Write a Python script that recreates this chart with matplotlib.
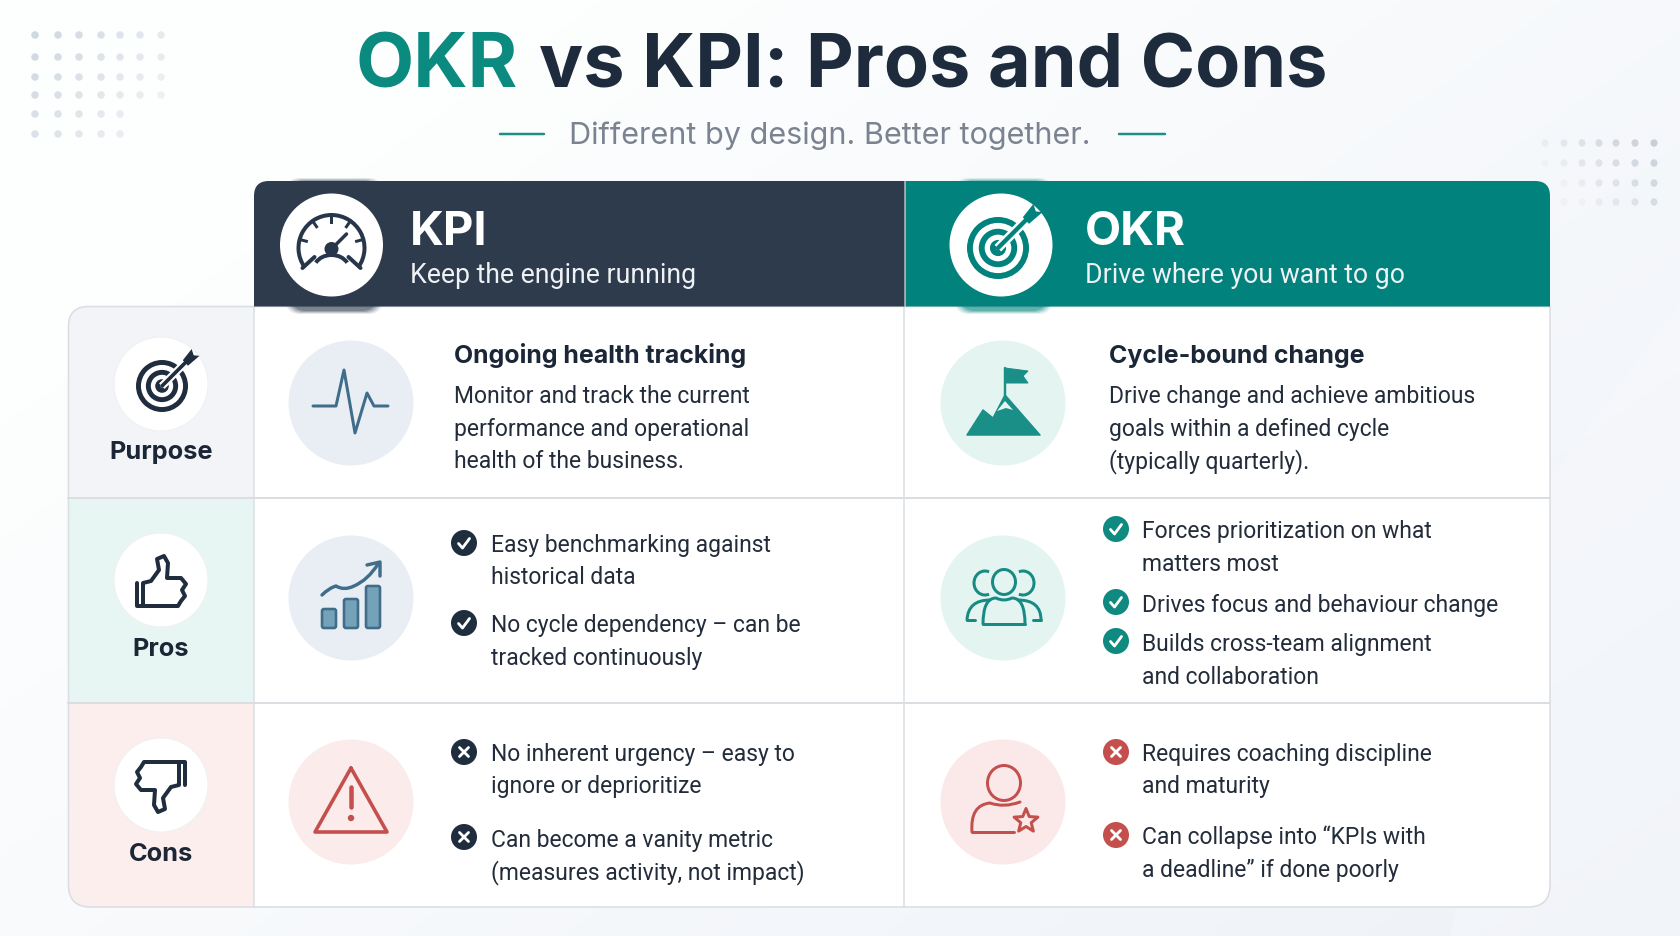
import numpy as np
import matplotlib
matplotlib.use('Agg')
import matplotlib.pyplot as plt
from matplotlib.patches import Circle, Ellipse, PathPatch, Polygon, Arc
from matplotlib.path import Path

plt.rcParams['font.family'] = ['Inter', 'DejaVu Sans']

# ---- content ----
title_first = 'OKR'
title_rest = 'vs KPI: Pros and Cons'
subtitle = 'Different by design. Better together.'

row_labels = ['Purpose', 'Pros', 'Cons']
header_names = ['KPI', 'OKR']
header_subs = ['Keep the engine running', 'Drive where you want to go']

purpose_heads = ['Ongoing health tracking', 'Cycle-bound change']
purpose_kpi = ['Monitor and track the current', 'performance and operational', 'health of the business.']
purpose_okr = ['Drive change and achieve ambitious', 'goals within a defined cycle', '(typically quarterly).']

pros_kpi = [['Easy benchmarking against', 'historical data'],
            ['No cycle dependency \u2013 can be', 'tracked continuously']]
pros_okr = [['Forces prioritization on what', 'matters most'],
            ['Drives focus and behaviour change'],
            ['Builds cross-team alignment', 'and collaboration']]
cons_kpi = [['No inherent urgency \u2013 easy to', 'ignore or deprioritize'],
            ['Can become a vanity metric', '(measures activity, not impact)']]
cons_okr = [['Requires coaching discipline', 'and maturity'],
            ['Can collapse into \u201cKPIs with', 'a deadline\u201d if done poorly']]

NAVY = '#2e3b4d'
TEAL = '#02827c'
TEAL2 = '#1a8f87'
INK = '#1b2636'
BODY = '#232c3a'
RED = '#c4504e'
STEEL = '#3f6d8a'
GRID = '#dadee3'
DARK = '#1f2d3f'
BODY_PX = 22.9

fig = plt.figure(figsize=(16.81, 9.36), dpi=100)
ax = fig.add_axes([0, 0, 1, 1])
ax.axis('off')


def lw(px):
    return px * 0.72


def label(x, y, s, px, color=BODY, weight='normal', ha='left', family='Roboto'):
    return ax.text(x, y, s, fontsize=px * 0.72, color=color, fontweight=weight, ha=ha, va='baseline',
                   family=[family, 'DejaVu Sans'], zorder=3)


def round_rect(x0, y0, x1, y1, tl=0, tr=0, br=0, bl=0):
    verts = [(x0 + tl, y0), (x1 - tr, y0), (x1, y0), (x1, y0 + tr), (x1, y1 - br), (x1, y1), (x1 - br, y1),
             (x0 + bl, y1), (x0, y1), (x0, y1 - bl), (x0, y0 + tl), (x0, y0), (x0 + tl, y0), (x0 + tl, y0)]
    codes = [Path.MOVETO, Path.LINETO, Path.CURVE3, Path.CURVE3, Path.LINETO, Path.CURVE3, Path.CURVE3,
             Path.LINETO, Path.CURVE3, Path.CURVE3, Path.LINETO, Path.CURVE3, Path.CURVE3, Path.CLOSEPOLY]
    return Path(verts, codes)


def stroke(pts, color, px=3, **kw):
    pts = np.array(pts)
    ax.plot(pts[:, 0], pts[:, 1], color=color, lw=lw(px), solid_capstyle='round', solid_joinstyle='round', **kw)


def curve(pts, color, px=3):
    # smooth stroke through bezier control points (start, ctrl, end, ctrl, end ...)
    codes = [Path.MOVETO] + [Path.CURVE3] * (len(pts) - 1)
    ax.add_patch(PathPatch(Path(pts, codes), fc='none', ec=color, lw=lw(px), capstyle='round', joinstyle='round',
                           zorder=3))


# ---- background ----
h, w = 936, 1681
yy, xx = np.mgrid[0:h, 0:w]
t = (xx / w * 0.7 + yy / h * 0.55)
t = np.clip(t - 0.25, 0, 1)[..., None]
bg = (1 - t) * np.array([253, 254, 254]) / 255 + t * np.array([238, 242, 248]) / 255
ax.imshow(bg, extent=(0, w, h, 0), aspect='auto', zorder=-5)
ax.add_patch(Polygon([(1681, 300), (1681, 936), (1450, 936), (1550, 480)], fc='white', ec='none', alpha=0.2, zorder=-4))

# dots, top left and top right
left_dx = [35, 58, 79, 101, 120, 140, 161]
left_dy = [35, 57, 77, 95, 114, 134]
for j, y in enumerate(left_dy):
    for i, x in enumerate(left_dx):
        if j >= 4 and i >= 5:
            continue
        a = max(0.2, 0.95 - 0.08 * i - 0.05 * j)
        ax.add_patch(Ellipse((x, y), 7.5, 7.5, fc='#cdd5df', ec='none', alpha=a))
right_dx = [1545, 1564, 1582, 1599, 1616, 1635, 1654]
right_dy = [143, 163, 183, 202]
for j, y in enumerate(right_dy):
    for i, x in enumerate(right_dx):
        if j >= 2 and i == 0:
            continue
        a = max(0.12, 0.25 + 0.12 * i - 0.12 * j)
        ax.add_patch(Ellipse((x, y), 7, 7.5, fc='#c6ced8', ec='none', alpha=a))

# ---- title ----
label(356, 88, title_first, 75.5, color='#0b8a80', weight='bold', family='Inter')
label(539, 88, title_rest, 73.8, color='#1e2b3c', weight='bold', family='Inter')
label(569, 144, subtitle, 30.6, color='#7b8390', family='Inter')
stroke([(500, 134), (544, 134)], '#1c8f88', 2.5)
stroke([(1119, 134), (1165, 134)], '#1c8f88', 2.5)

# ---- table body ----
TX0, TX1, TXA, TXB = 68.5, 1550, 254, 904.5
TY0, TY1, TY2, TY3, TOP = 306.5, 497.5, 703, 907, 181
panel = round_rect(TX0, TY0, TX1, TY3, tl=20, br=22, bl=22)
body = PathPatch(panel, fc='white', ec='none', zorder=1)
ax.add_patch(body)
bands = [(TY0, TY1, '#f3f4f7'), (TY1, TY2, '#e8f6f3'), (TY2, TY3, '#fdeeee')]
for y0, y1, c in bands:
    r = ax.fill_between([TX0, TXA], y0, y1, color=c, lw=0, zorder=1.1)
    r.set_clip_path(body)
for y in (TY1, TY2):
    ax.plot([TX0, TX1], [y, y], color=GRID, lw=lw(2), zorder=1.3)
ax.plot([TXA, TXA], [TY0, TY3], color=GRID, lw=lw(1.5), zorder=1.3)
ax.plot([TXB, TXB], [TY0, TY3], color=GRID, lw=lw(1.5), zorder=1.3)
ax.add_patch(PathPatch(panel, fc='none', ec=GRID, lw=lw(1.6), zorder=1.4))

# ---- headers ----
# soft shadow bulging out above and below the header round the icon disc
for grow, alpha in [(0, 0.12), (-2, 0.18), (-4, 0.25), (-6, 0.3)]:
    for x0, x1, col in [(286, 382, NAVY), (955, 1052, TEAL)]:
        ax.add_patch(PathPatch(round_rect(x0 - grow, 178 - grow / 2, x1 + grow, 314 + grow / 2, 14, 14, 14, 14), fc=col,
                               ec='none', alpha=alpha, zorder=1.5))
ax.add_patch(PathPatch(round_rect(TXA, TOP, TXB, TY0, tl=15), fc=NAVY, ec='none', zorder=2))
ax.add_patch(PathPatch(round_rect(TXB + 1, TOP, TX1, TY0, tr=15), fc=TEAL, ec='none', zorder=2))
ax.add_patch(Circle((331.5, 245), 51.5, fc='white', ec='none', zorder=2.1))
ax.add_patch(Circle((1001, 245), 51.5, fc='white', ec='none', zorder=2.1))
for x, name, sub in zip((410, 1085), header_names, header_subs):
    label(x, 245, name, 47, color='white', weight='bold', family='Inter')
    label(x, 283, sub, 26.6, color='#eef2f4')


# ---- icons ----
def gauge(cx, cy, col):
    z = 3
    ax.add_patch(Arc((cx, cy), 66, 66, theta1=145, theta2=395, ec=col, lw=lw(4), zorder=z))
    for ang in (-90, -125, -55, -165, -15):
        a = np.radians(ang)
        ax.plot([cx + 33 * np.cos(a), cx + 26 * np.cos(a)], [cy + 33 * np.sin(a), cy + 26 * np.sin(a)],
                color=col, lw=lw(3), zorder=z)
    for s in (-1, 1):
        ax.plot([cx + s * 29, cx + s * 17], [cy + 20, cy + 9], color=col, lw=lw(4), solid_capstyle='round', zorder=z)
    ax.add_patch(Arc((cx, cy + 22), 36, 30, theta1=205, theta2=335, ec=col, lw=lw(4), zorder=z))
    ax.add_patch(Circle((cx, cy + 1), 7, fc=col, ec='none', zorder=z))
    ax.plot([cx, cx + 15], [cy + 1, cy - 14], color=col, lw=lw(3.5), solid_capstyle='round', zorder=z)


def target(cx, cy, r, col):
    z = 3
    for rr, width in ((r, 0.19), (r * 0.62, 0.19), (r * 0.26, 0.19)):
        ax.add_patch(Circle((cx, cy), rr - r * width / 2, fc='none', ec=col, lw=lw(r * width), zorder=z))
    ex, ey = cx + r * 1.02, cy - r * 1.02
    ax.plot([cx + r * 0.1, ex + r * 0.1], [cy - r * 0.1, ey - r * 0.1], color='white', lw=lw(r * 0.3), zorder=z)
    ax.plot([cx, ex], [cy, ey], color=col, lw=lw(r * 0.14), solid_capstyle='round', zorder=z)
    ax.add_patch(Polygon([(ex - r * 0.22, ey + r * 0.03), (ex + r * 0.12, ey - r * 0.4), (ex + r * 0.2, ey - r * 0.16),
                          (ex + r * 0.42, ey - r * 0.14), (ex - r * 0.02, ey + r * 0.24)], fc=col, ec='none', zorder=z))


def thumb(cx, cy, col, flip=False):
    pts = np.array([(-18, 25), (-18, 2), (-10, 0), (-2, -11), (-4, -22), (3, -25), (7, -18), (6, -3),
                    (20, -3), (25, 3), (21, 9), (24, 15), (20, 20), (17, 25), (-18, 25)], dtype=float)
    cuff = np.array([(-24, 2), (-24, 25), (-18, 25)], dtype=float)
    if flip:
        pts, cuff = -pts, -cuff
    stroke(pts + (cx, cy), col, 4, zorder=3)
    stroke(cuff + (cx, cy), col, 4, zorder=3)


def bars_icon():
    for x0, top in zip((322, 344, 366), (609, 599, 586)):
        ax.add_patch(PathPatch(round_rect(x0, top, x0 + 14, 628, 2, 2, 2, 2), fc='#76a2b9', ec=STEEL, lw=lw(2.6), zorder=3))
    curve([(322, 595), (329, 588), (336, 586), (344, 591), (354, 586), (368, 580), (378, 564)], STEEL, 3.4)
    stroke([(367, 565), (380, 562), (380, 576)], STEEL, 3.4, zorder=3)


def people_icon():
    z = 3
    col = '#178a83'
    ax.add_patch(Ellipse((1004, 582), 23, 25, fc='none', ec=col, lw=lw(3), zorder=z))
    ax.add_patch(Arc((985, 583), 22, 24, theta1=70, theta2=290, ec=col, lw=lw(3), zorder=z))
    ax.add_patch(Arc((1023, 583), 22, 24, theta1=-110, theta2=110, ec=col, lw=lw(3), zorder=z))
    curve([(983, 624), (983, 598), (996, 598), (1004, 602), (1012, 598), (1025, 598), (1025, 624)], col, 3)
    stroke([(983, 624), (1025, 624)], col, 3, zorder=z)
    curve([(990, 600), (968, 600), (967, 620)], col, 3)
    stroke([(967, 620), (975, 620)], col, 3, zorder=z)
    curve([(1018, 600), (1041, 600), (1041, 620)], col, 3)
    stroke([(1041, 620), (1033, 620)], col, 3, zorder=z)


def warning_icon():
    stroke([(351, 768), (387, 832), (315, 832), (351, 768)], RED, 3.6, zorder=3)
    stroke([(351, 787), (351, 807)], RED, 4.5, zorder=3)
    ax.add_patch(Circle((351, 818), 3.2, fc=RED, ec='none', zorder=3))


def person_star():
    z = 3
    ax.add_patch(Ellipse((1004, 783), 33, 35, fc='none', ec=RED, lw=lw(3), zorder=z))
    stroke([(1014, 832), (972, 832)], RED, 3, zorder=z)
    curve([(972, 832), (970, 805), (990, 803), (1004, 808), (1020, 802)], RED, 3)
    ang = np.radians(np.arange(-90, 270, 36))
    rad = np.where(np.arange(10) % 2 == 0, 12.5, 5.5)
    ax.add_patch(Polygon(np.c_[1026 + rad * np.cos(ang), 821 + rad * np.sin(ang)], fc='none', ec=RED, lw=lw(3),
                         joinstyle='round', zorder=z))


def flag_icon():
    z = 3
    col = TEAL2
    ax.add_patch(Polygon([(967, 435), (983, 410), (993, 418), (1005, 395), (1040, 435)], fc=col, ec=col, lw=lw(1.5),
                         joinstyle='round', zorder=z))
    ax.add_patch(Polygon([(1005, 401), (1013, 410), (1006, 408), (997, 411)], fc='#e6f5f2', ec='none', zorder=z))
    stroke([(1005, 368), (1005, 396)], col, 2.4, zorder=z)
    ax.add_patch(Polygon([(1005, 368), (1028, 371), (1023, 376), (1028, 383), (1005, 383)], fc=col, ec=col, lw=lw(1),
                         zorder=z))


def bullet(x, y, fc, kind):
    ax.add_patch(Circle((x, y), 13, fc=fc, ec='none', zorder=3))
    if kind == 'check':
        stroke([(x - 5.5, y + 0.5), (x - 1.5, y + 5), (x + 5.5, y - 4.5)], 'white', 2.8, zorder=4)
    else:
        stroke([(x - 4.5, y - 4.5), (x + 4.5, y + 4.5)], 'white', 2.8, zorder=4)
        stroke([(x - 4.5, y + 4.5), (x + 4.5, y - 4.5)], 'white', 2.8, zorder=4)


gauge(331.5, 248, '#27364a')
target(998, 248, 31, TEAL)
target(162, 386, 26, DARK)
thumb(161, 581, DARK)
thumb(161, 787, DARK, flip=True)

# row label cells
for cy, name, base in zip((384, 580, 785), row_labels, (459, 656, 861)):
    ax.add_patch(Circle((161, cy), 47, fc='white', ec='#eef0f3', lw=lw(1), zorder=2))
    label(161, base, name, 25.4, color=INK, weight='bold', ha='center', family='Inter')

# soft icon discs
for cx, cy, c in [(351, 403, '#e9eef4'), (1003, 403, '#e3f4f1'), (351, 598, '#e9eef4'), (1003, 598, '#e3f4f1'),
                  (351, 802, '#fcebeb'), (1003, 802, '#fbe9e9')]:
    ax.add_patch(Circle((cx, cy), 62.5, fc=c, ec='none', zorder=2))

stroke([(313, 406), (336, 406), (344, 370), (355, 433), (367, 393), (374, 406), (388, 406)], STEEL, 3, zorder=3)
flag_icon()
bars_icon()
people_icon()
warning_icon()
person_star()

# ---- purpose text ----
label(454, 363, purpose_heads[0], 24.9, color=INK, weight='bold', family='Inter')
label(1109, 363, purpose_heads[1], 24.9, color=INK, weight='bold', family='Inter')
for line, base in zip(purpose_kpi, (403, 436, 468)):
    label(454, base, line, BODY_PX)
for line, base in zip(purpose_okr, (403, 436, 468)):
    label(1109, base, line, BODY_PX)


# ---- bullets ----
def bullets(items, icon_x, text_x, icon_ys, bases, col, kind):
    k = 0
    for item, iy in zip(items, icon_ys):
        bullet(icon_x, iy, col, kind)
        for line in item:
            label(text_x, bases[k], line, BODY_PX)
            k += 1


bullets(pros_kpi, 464, 491.5, (543, 623), (552, 584, 632, 665), DARK, 'check')
bullets(cons_kpi, 464, 491.5, (752, 837), (761, 793, 847, 879), DARK, 'cross')
bullets(pros_okr, 1116, 1142.5, (529, 602, 641), (538, 571, 612, 651, 684), '#0f8a80', 'check')
bullets(cons_okr, 1116, 1142.5, (752, 835), (761, 793, 844, 877), RED, 'cross')

ax.set_xlim(0, w)
ax.set_ylim(h, 0)
fig.savefig('out.png', dpi=100)
